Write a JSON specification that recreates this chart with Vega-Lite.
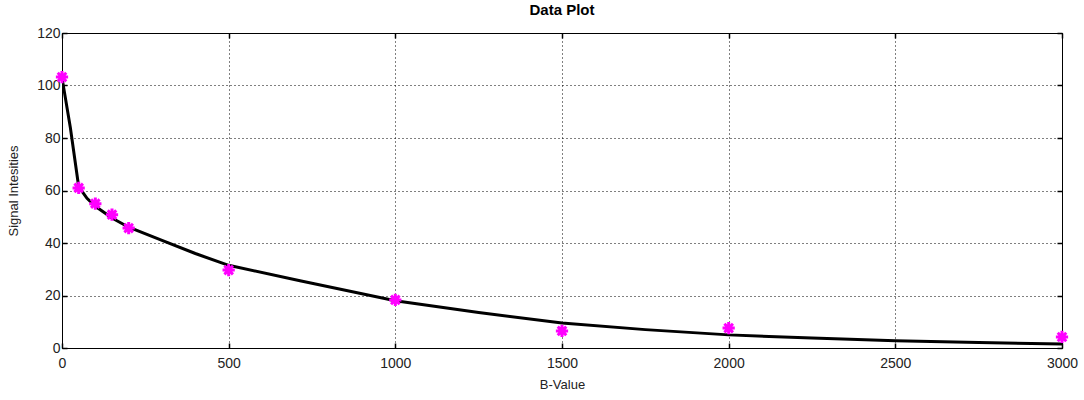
{
  "$schema": "https://vega.github.io/schema/vega-lite/v6.json",
  "width": 1000,
  "height": 315,
  "autosize": "none",
  "padding": {"left": 62, "top": 33, "right": 22, "bottom": 52},
  "background": "white",
  "title": {"text": "Data Plot", "font": "Liberation Sans", "fontSize": 15, "fontWeight": "bold", "color": "black", "offset": 8},
  "config": {
    "view": {"stroke": "black", "strokeWidth": 1},
    "axis": {
      "labelFont": "Liberation Sans", "labelFontSize": 14, "labelColor": "#222", "labelFlush": false,
      "titleFont": "Liberation Sans", "titleFontSize": 13, "titleFontWeight": "normal", "titleColor": "#222",
      "domainColor": "black", "tickColor": "black", "tickSize": -5, "tickWidth": 1.5,
      "gridColor": "black", "gridOpacity": 1, "gridDash": [1, 3], "gridWidth": 1, "format": "d"
    }
  },
  "datasets": {
    "meas": [
      {"b": 0, "s": 103.2},
      {"b": 50, "s": 61},
      {"b": 100, "s": 55},
      {"b": 150, "s": 50.8},
      {"b": 200, "s": 45.7},
      {"b": 500, "s": 29.7},
      {"b": 1000, "s": 18.3},
      {"b": 1500, "s": 6.5},
      {"b": 2000, "s": 7.6},
      {"b": 3000, "s": 4.2}
    ],
    "fit": [
      {"b": 0, "s": 103},
      {"b": 25, "s": 84},
      {"b": 50, "s": 61.5},
      {"b": 75, "s": 57},
      {"b": 100, "s": 54},
      {"b": 150, "s": 49.5},
      {"b": 200, "s": 46},
      {"b": 300, "s": 41},
      {"b": 400, "s": 36},
      {"b": 500, "s": 31.5},
      {"b": 714, "s": 25.6},
      {"b": 1000, "s": 18},
      {"b": 1250, "s": 13.5},
      {"b": 1500, "s": 9.5},
      {"b": 1750, "s": 7},
      {"b": 2000, "s": 5},
      {"b": 2250, "s": 3.8},
      {"b": 2500, "s": 2.8},
      {"b": 2750, "s": 2.1},
      {"b": 3000, "s": 1.5}
    ]
  },
  "layer": [
    {
      "data": {"name": "fit"},
      "mark": {"type": "line", "color": "black", "strokeWidth": 3, "clip": true},
      "encoding": {
        "x": {"field": "b", "type": "quantitative", "scale": {"domain": [0, 3000], "nice": false, "zero": false},
              "axis": {"title": "B-Value", "values": [0, 500, 1000, 1500, 2000, 2500, 3000], "grid": true, "titleY": 30, "labelPadding": 13}},
        "y": {"field": "s", "type": "quantitative", "scale": {"domain": [0, 120], "nice": false},
              "axis": {"title": "Signal Intesities", "values": [0, 20, 40, 60, 80, 100, 120], "grid": true, "titleX": -42, "labelPadding": 7}}
      }
    },
    {
      "data": {"name": "meas"},
      "mark": {"type": "point", "shape": "M-1,0L1,0M0,-1L0,1M-0.7,-0.7L0.7,0.7M-0.7,0.7L0.7,-0.7", "filled": false, "stroke": "#ff00ff", "strokeWidth": 3, "size": 150, "opacity": 1},
      "encoding": {
        "x": {"field": "b", "type": "quantitative", "axis": {"orient": "top", "labels": false, "title": null, "grid": false, "values": [0, 500, 1000, 1500, 2000, 2500, 3000]}},
        "y": {"field": "s", "type": "quantitative", "axis": {"orient": "right", "labels": false, "title": null, "grid": false, "values": [0, 20, 40, 60, 80, 100, 120]}}
      }
    }
  ],
  "resolve": {"axis": {"x": "independent", "y": "independent"}}
}
